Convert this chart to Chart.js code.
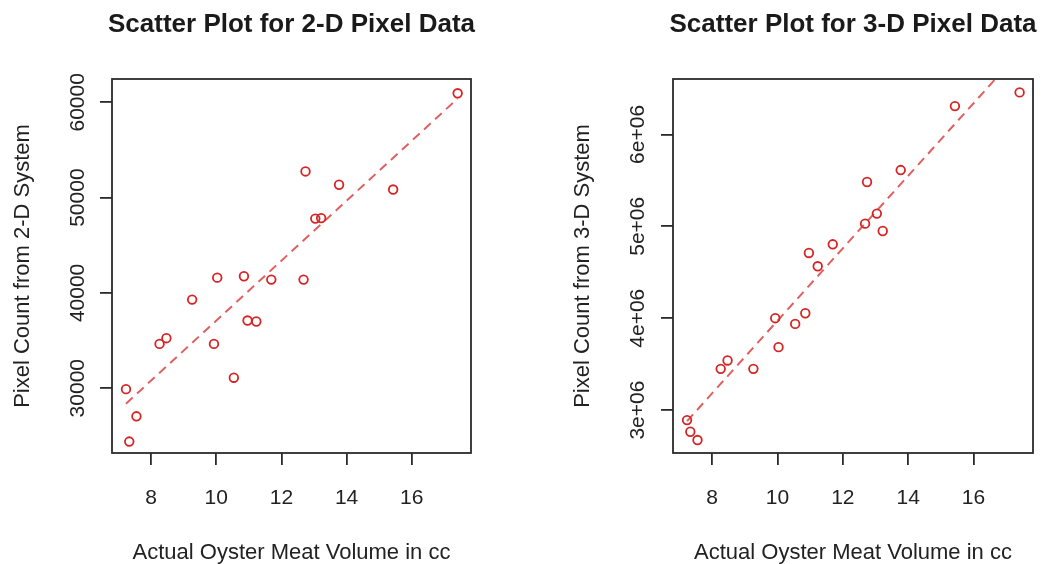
<!DOCTYPE html>
<html>
<head>
<meta charset="utf-8">
<title>Scatter Plots for Pixel Data</title>
<script src="https://cdn.jsdelivr.net/npm/chart.js@4.4.1/dist/chart.umd.min.js"></script>
<style>
  html, body { margin: 0; padding: 0; background: #fff; }
  #page { position: relative; width: 1042px; height: 564px; overflow: hidden; }
  .panel { position: absolute; top: 0; width: 521px; height: 564px; }
  #leftPanel { left: 0; }
  #rightPanel { left: 521px; }
</style>
</head>
<body>
<div id="page">
  <div class="panel" id="leftPanel"><canvas id="chart2d" width="521" height="564"></canvas></div>
  <div class="panel" id="rightPanel"><canvas id="chart3d" width="521" height="564"></canvas></div>
</div>
<script>
// Oyster meat volume (cc) shared by both panels
const oysterVolume = [7.23, 7.33, 7.55, 8.26, 8.47, 9.26, 9.93, 10.03, 10.54, 10.85,
                      10.96, 11.23, 11.69, 12.68, 12.74, 13.04, 13.22, 13.77, 15.43, 17.41];
// Pixel counts
const pixels2D = [29900, 24400, 27050, 34650, 35250, 39300, 34650, 41600, 31100, 41750,
                  37100, 37000, 41400, 41400, 52750, 47800, 47850, 51350, 50850, 60950];
const pixels3D = [2.891e6, 2.764e6, 2.674e6, 3.449e6, 3.540e6, 3.449e6, 4.000e6, 3.685e6, 3.938e6, 4.054e6,
                  4.710e6, 4.565e6, 4.804e6, 5.029e6, 5.482e6, 5.138e6, 4.949e6, 5.612e6, 6.308e6, 6.457e6];
// Dashed fitted lines (end points as drawn)
const fitX = [7.23, 17.41];
const fit2DY = [28380, 60400];
const fit3DY = [2.88e6, 6.895e6];
// Tick labels
const volumeTicks = [8, 10, 12, 14, 16];
const ticks2D = [30000, 40000, 50000, 60000];
const ticks3D = [3e6, 4e6, 5e6, 6e6];

Chart.defaults.font.family = '"Liberation Sans", Arial, sans-serif';
Chart.defaults.color = '#222';

const ink = '#2b2b2b';
const pointRed = '#d62424';
const lineRed = '#e06060';

// title centred over the plot region, like R's main=
const plotTitle = {
  id: 'plotTitle',
  afterDraw(chart, args, opts) {
    const {ctx, chartArea} = chart;
    ctx.save();
    ctx.font = 'bold 26px "Liberation Sans", Arial, sans-serif';
    ctx.fillStyle = '#1a1a1a';
    ctx.textAlign = 'center';
    ctx.textBaseline = 'middle';
    ctx.fillText(opts.text, (chartArea.left + chartArea.right) / 2, opts.y);
    ctx.restore();
  }
};

// the box() around the plot region
const plotBox = {
  id: 'plotBox',
  afterDraw(chart) {
    const {ctx, chartArea: a} = chart;
    ctx.save();
    ctx.strokeStyle = ink;
    ctx.lineWidth = 1.8;
    ctx.strokeRect(a.left, a.top, a.right - a.left, a.bottom - a.top);
    ctx.restore();
  }
};

function toPoints(xs, ys) {
  return xs.map((x, i) => ({x: x, y: ys[i]}));
}

function makeChart(canvasId, opts) {
  const ctx = document.getElementById(canvasId).getContext('2d');
  return new Chart(ctx, {
    type: 'scatter',
    data: {
      datasets: [
        {
          data: toPoints(oysterVolume, opts.ys),
          pointStyle: 'circle',
          pointRadius: 4.3,
          pointBorderWidth: 1.8,
          borderColor: pointRed,
          backgroundColor: 'rgba(0,0,0,0)'
        },
        {
          data: toPoints(fitX, opts.fitY),
          showLine: true,
          pointRadius: 0,
          borderColor: lineRed,
          borderWidth: 2,
          borderDash: [9, 6],
          fill: false
        }
      ]
    },
    options: {
      responsive: false,
      animation: false,
      events: [],
      layout: { padding: { top: 79, right: opts.rightPad, bottom: 0, left: 0 } },
      scales: {
        x: {
          type: 'linear',
          min: 6.8,
          max: 17.82,
          afterBuildTicks: s => { s.ticks = volumeTicks.map(v => ({value: v})); },
          afterFit: s => { s.height = 111; },
          border: { display: false },
          grid: { drawOnChartArea: false, drawTicks: true, tickLength: 12, color: ink, lineWidth: 1.8 },
          ticks: { padding: 21, font: { size: 21 }, color: '#222' },
          title: {
            display: true,
            text: 'Actual Oyster Meat Volume in cc',
            font: { size: 22, lineHeight: 1 },
            padding: { top: 0, bottom: 0 },
            color: '#222'
          }
        },
        y: {
          type: 'linear',
          min: opts.yMin,
          max: opts.yMax,
          afterBuildTicks: s => { s.ticks = opts.yTicks.map(v => ({value: v})); },
          afterFit: s => { s.width = opts.yWidth; },
          border: { display: false },
          grid: { drawOnChartArea: false, drawTicks: true, tickLength: 12, color: ink, lineWidth: 1.8 },
          ticks: {
            minRotation: 90,
            maxRotation: 90,
            crossAlign: 'center',
            padding: opts.tickPad,
            font: { size: 21 },
            color: '#222',
            callback: opts.tickFormat
          },
          title: {
            display: true,
            text: opts.yTitle,
            font: { size: 22, lineHeight: 1 },
            padding: { top: opts.yTitlePad, bottom: 0 },
            color: '#222'
          }
        }
      },
      plugins: {
        legend: { display: false },
        tooltip: { enabled: false },
        plotTitle: { text: opts.title, y: 25 }
      }
    },
    plugins: [plotTitle, plotBox]
  });
}

makeChart('chart2d', {
  ys: pixels2D,
  fitY: fit2DY,
  yMin: 23200,
  yMax: 62450,
  yTicks: ticks2D,
  yWidth: 112,
  rightPad: 50,
  tickPad: -7,
  yTitlePad: 12,
  yTitle: 'Pixel Count from 2-D System',
  title: 'Scatter Plot for 2-D Pixel Data',
  tickFormat: v => String(v)
});

makeChart('chart3d', {
  ys: pixels3D,
  fitY: fit3DY,
  yMin: 2.533e6,
  yMax: 6.603e6,
  yTicks: ticks3D,
  yWidth: 152,
  rightPad: 9,
  tickPad: -7,
  yTitlePad: 51,
  yTitle: 'Pixel Count from 3-D System',
  title: 'Scatter Plot for 3-D Pixel Data',
  tickFormat: v => (v / 1e6) + 'e+06'
});
</script>
</body>
</html>
